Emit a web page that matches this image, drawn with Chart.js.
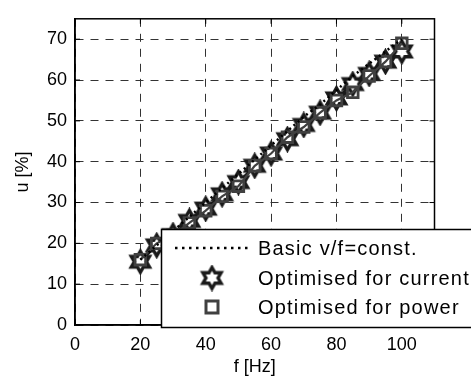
<!DOCTYPE html>
<html><head><meta charset="utf-8">
<script src="https://cdn.jsdelivr.net/npm/chart.js@4/dist/chart.umd.min.js"></script>
<style>html,body{margin:0;padding:0;background:#fff}#wrap{width:471px;height:380px}</style>
</head><body><div id="wrap"><canvas id="c" width="471" height="380"></canvas></div>
<script>
const freq = [20,25,30,35,40,45,50,55,60,65,70,75,80,85,90,95,100];
const basicVF = [16,19.5,23,26.5,30,33.5,37,40.5,44,47.5,51,54,57.5,61,64,67,70];
const optCurrent = [15.5,19.5,22,25.5,28.5,32,35,39,42,45.5,49,52,55.5,59,61.5,64.5,67];
const optPower = [16,20,22,25,28,31.5,34,39,42,46,48.5,52,55,57,61,64.5,69];
const seriesNames = ['Basic v/f=const.','Optimised for current','Optimised for power'];
const xTicks = [0,20,40,60,80,100];
const yTicks = [0,10,20,30,40,50,60,70];

function makeStar(r, lw){
  const s = Math.ceil(2*r + lw + 2);
  const cv = document.createElement('canvas'); cv.width = s; cv.height = s;
  const g = cv.getContext('2d');
  const c = s/2, ri = r/Math.sqrt(3);
  g.beginPath();
  for(let i=0;i<12;i++){
    const a = -Math.PI/2 + i*Math.PI/6;
    const rr = i%2===0 ? r : ri;
    const px = c + rr*Math.cos(a), py = c + rr*Math.sin(a);
    i===0 ? g.moveTo(px,py) : g.lineTo(px,py);
  }
  g.closePath();
  g.fillStyle = '#fff'; g.fill();
  g.lineJoin = 'miter'; g.lineWidth = lw; g.strokeStyle = '#1a1a1a'; g.stroke();
  return cv;
}
const starImg = makeStar(10.5, 3.4);

const FONT = 'Arial, "Liberation Sans", sans-serif';

function spacedText(ctx, txt, x, y, sp){
  if ('letterSpacing' in ctx){ ctx.letterSpacing = sp + 'px'; ctx.fillText(txt, x, y); ctx.letterSpacing = '0px'; return; }
  let cx = x;
  for (const ch of txt){ ctx.fillText(ch, cx, y); cx += ctx.measureText(ch).width + sp; }
}

const framePlugin = {
  id:'frame',
  afterDraw(chart){
    const {ctx, chartArea:a, scales} = chart;
    ctx.save();
    ctx.strokeStyle = '#000'; ctx.lineWidth = 1.5;
    ctx.strokeRect(a.left, a.top, a.right-a.left, a.bottom-a.top);
    ctx.lineWidth = 1;
    xTicks.forEach(v=>{const x = scales.x.getPixelForValue(v);
      ctx.beginPath(); ctx.moveTo(x,a.bottom); ctx.lineTo(x,a.bottom-5);
      ctx.moveTo(x,a.top); ctx.lineTo(x,a.top+5); ctx.stroke();});
    yTicks.forEach(v=>{const y = scales.y.getPixelForValue(v);
      ctx.beginPath(); ctx.moveTo(a.left,y); ctx.lineTo(a.left+5,y);
      ctx.moveTo(a.right,y); ctx.lineTo(a.right-5,y); ctx.stroke();});
    // legend
    const L = 161.5, T = 229.5, W = 330, H = 98;
    ctx.fillStyle = '#fff'; ctx.fillRect(L, T, W, H);
    ctx.strokeStyle = '#000'; ctx.lineWidth = 1.5; ctx.strokeRect(L, T, W, H);
    const rows = [248, 278, 307];
    ctx.font = '20px ' + FONT; ctx.fillStyle = '#000'; ctx.textBaseline = 'middle';
    seriesNames.forEach((n,i)=>spacedText(ctx, n, 258, rows[i]+1, 1.2));
    ctx.setLineDash([2.5,4.5]); ctx.lineWidth = 2.5; ctx.strokeStyle = '#000';
    ctx.beginPath(); ctx.moveTo(175, rows[0]); ctx.lineTo(251, rows[0]); ctx.stroke();
    ctx.setLineDash([]);
    ctx.drawImage(starImg, 212 - starImg.width/2, rows[1] - starImg.height/2);
    ctx.lineWidth = 3; ctx.strokeStyle = '#404040';
    ctx.strokeRect(212-6, rows[2]-6, 12, 12);
    ctx.restore();
  }
};

new Chart(document.getElementById('c'), {
  type:'line',
  data:{
    labels: freq,
    datasets:[
      {label:seriesNames[1], data: freq.map((f,i)=>({x:f,y:optCurrent[i]})),
       borderColor:'#1a1a1a', borderWidth:2.2, pointStyle:starImg, pointRadius:10, order:2},
      {label:seriesNames[2], data: freq.map((f,i)=>({x:f,y:optPower[i]})),
       borderColor:'#404040', borderWidth:2.2, pointStyle:'rect', pointRadius:7.5,
       pointBorderWidth:2.8, pointBorderColor:'#404040', pointBackgroundColor:'rgba(255,255,255,0)', order:1},
      {label:seriesNames[0], data: freq.map((f,i)=>({x:f,y:basicVF[i]})),
       borderColor:'#000', borderWidth:2.5, borderDash:[2,3.5], pointRadius:0, order:0}
    ]
  },
  options:{
    responsive:false, animation:false, devicePixelRatio:1,
    layout:{padding:{left:0, top:9.5, right:36.5, bottom:0}},
    plugins:{legend:{display:false}, tooltip:{enabled:false}},
    scales:{
      x:{type:'linear', min:0, max:110,
        afterFit(s){s.height = 55;},
        afterBuildTicks(s){s.ticks = xTicks.map(v=>({value:v}));},
        ticks:{color:'#000', font:{family:FONT, size:18}, padding:9, maxRotation:0},
        grid:{color:'#333', lineWidth:1, drawTicks:false},
        border:{display:true, color:'#000', width:1.5, dash:[8,7]},
        title:{display:true, text:'f [Hz]', color:'#000', font:{family:FONT, size:18}, padding:{top:0,bottom:2}}
      },
      y:{type:'linear', min:0, max:75,
        afterFit(s){s.width = 75;},
        afterBuildTicks(s){s.ticks = yTicks.map(v=>({value:v}));},
        ticks:{color:'#000', font:{family:FONT, size:18}, padding:8},
        grid:{color:'#333', lineWidth:1, drawTicks:false},
        border:{display:true, color:'#000', width:1.5, dash:[8,7]},
        title:{display:true, text:'u [%]', color:'#000', font:{family:FONT, size:18}, padding:{top:12,bottom:0}}
      }
    }
  },
  plugins:[framePlugin]
});
</script></body></html>
